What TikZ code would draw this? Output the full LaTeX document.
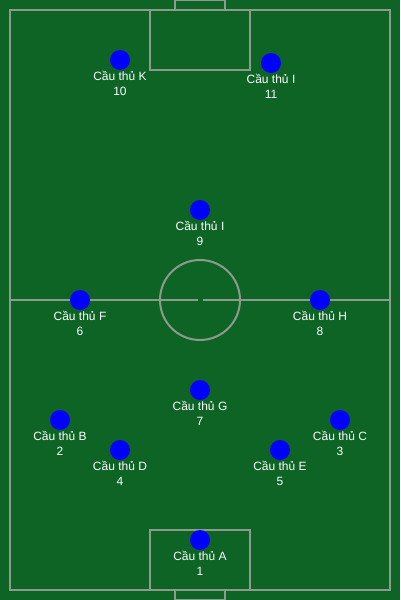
\documentclass[tikz,border=0pt]{standalone}
\usepackage{fontspec}
\setmainfont{Liberation Sans}
\definecolor{pitch}{RGB}{13,100,37}
\definecolor{pline}{RGB}{140,155,140}
\definecolor{pblue}{RGB}{0,0,255}
\tikzset{
  fieldline/.style={draw=pline, line width=2pt},
  player/.style={circle, fill=pblue, minimum size=20pt, inner sep=0pt},
  plabel/.style={text=white, font=\fontsize{12}{15}\selectfont, align=center, inner sep=0pt}
}
\begin{document}
\begin{tikzpicture}[x=1pt,y=-1pt]
\fill[pitch] (0,0) rectangle (400,600);
\useasboundingbox (0,0) rectangle (400,600);
% field
\draw[fieldline] (10,10) rectangle (390,590);
\draw[fieldline] (175,10) -- (175,0) -- (225,0) -- (225,10);
\draw[fieldline] (150,10) rectangle (250,70);
\draw[fieldline] (150,590) rectangle (250,530);
\draw[fieldline] (175,590) -- (175,600) -- (225,600) -- (225,590);
\draw[fieldline] (10,300) -- (197.5,300);
\draw[fieldline] (202.5,300) -- (390,300);
\draw[fieldline] (200,300) circle[radius=40];
% players
\foreach \n/\x/\y/\name/\num in {
  k/120/60/K/10, itop/271/63/I/11, imid/200/210/I/9,
  f/80/300/F/6, h/320/300/H/8, g/200/390/G/7,
  b/60/420/B/2, c/340/420/C/3, d/120/450/D/4,
  e/280/450/E/5, a/200/540/A/1}{
  \node[player] (p\n) at (\x,\y) {};
  \node[plabel, anchor=north] (l\n) at (\x,\y+11) {Cầu thủ \name\\\num};
}
\end{tikzpicture}
\end{document}
